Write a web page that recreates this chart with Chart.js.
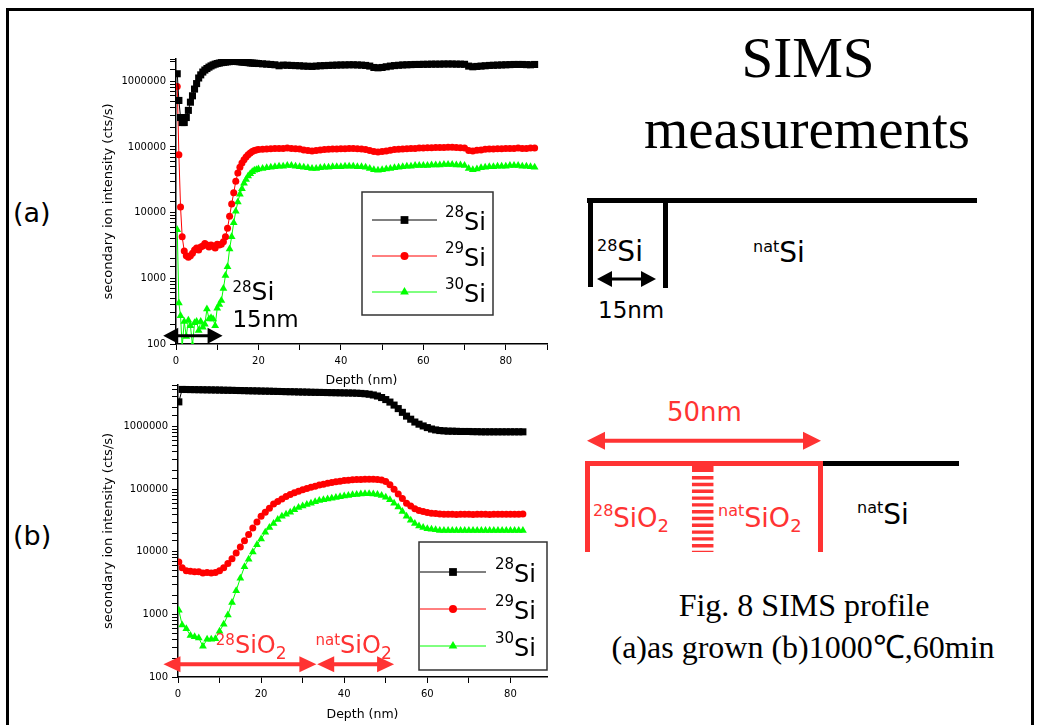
<!DOCTYPE html>
<html>
<head>
<meta charset="utf-8">
<script src="https://cdn.jsdelivr.net/npm/chart.js@4.4.0/dist/chart.umd.min.js"></script>
<style>
  body { margin: 0; background: #fff; }
  #page { position: relative; width: 1043px; height: 725px; overflow: hidden; background: #fff; }
  #deco { position: absolute; left: 0; top: 0; }
  #chartA { position: absolute; left: 90px; top: 49px; }
  #chartB { position: absolute; left: 90px; top: 375px; }
</style>
</head>
<body>
<div id="page">
  <svg id="deco" width="1043" height="725" xmlns="http://www.w3.org/2000/svg">
    <polyline points="7.5,740 7.5,9.5 1032.5,9.5 1032.5,740" fill="none" stroke="#000" stroke-width="3"/>

    <g font-family="DejaVu Sans" fill="#000">
      <text x="13" y="222" font-size="27">(a)</text>
      <text x="13" y="545" font-size="27">(b)</text>
    </g>

    <g font-family="Liberation Serif" font-size="57" text-anchor="middle" fill="#000">
      <text x="808" y="77">SIMS</text>
      <text x="807" y="148">measurements</text>
    </g>

    <!-- (a) as grown -->
    <rect x="587" y="198" width="390" height="5" fill="#000"/>
    <rect x="588" y="198" width="5" height="89" fill="#000"/>
    <rect x="663" y="198" width="5" height="90" fill="#000"/>
    <polygon id="arrDiagA" fill="#000"/>
    <g font-family="DejaVu Sans" fill="#000">
      <text x="597" y="261" font-size="28"><tspan font-size="16" dy="-10">28</tspan><tspan dy="10">Si</tspan></text>
      <text x="753" y="262" font-size="28"><tspan font-size="16" dy="-10">nat</tspan><tspan dy="10">Si</tspan></text>
      <text x="598" y="318" font-size="23">15nm</text>
    </g>

    <!-- (b) after anneal -->
    <text x="667" y="421" font-family="DejaVu Sans" font-size="26" fill="rgb(255,51,51)">50nm</text>
    <polygon id="arrDiagB" fill="rgb(255,51,51)"/>
    <rect x="587" y="461" width="236" height="5" fill="rgb(255,51,51)"/>
    <rect x="585" y="461" width="5" height="91" fill="rgb(255,51,51)"/>
    <rect x="818" y="461" width="5" height="91" fill="rgb(255,51,51)"/>
    <rect x="823" y="461" width="136" height="5" fill="#000"/>
    <rect x="692" y="464" width="21.5" height="8" fill="rgb(255,51,51)"/>
    <line x1="702.7" y1="476" x2="702.7" y2="552" stroke="rgb(255,51,51)" stroke-width="21.5" stroke-dasharray="3.4 3.4"/>
    <g font-family="DejaVu Sans" fill="rgb(255,51,51)">
      <text x="593" y="527" font-size="26"><tspan font-size="16" dy="-11">28</tspan><tspan dy="11">SiO</tspan><tspan font-size="18" dy="5">2</tspan></text>
      <text x="718" y="527" font-size="27"><tspan font-size="16" dy="-11">nat</tspan><tspan dy="11">SiO</tspan><tspan font-size="18" dy="5">2</tspan></text>
    </g>
    <text x="857" y="524" font-family="DejaVu Sans" font-size="28" fill="#000"><tspan font-size="16" dy="-11">nat</tspan><tspan dy="11">Si</tspan></text>

    <g font-family="Liberation Serif" font-size="32" text-anchor="middle" fill="#000">
      <text x="804" y="616">Fig. 8 SIMS profile</text>
      <text x="803" y="658">(a)as grown (b)1000℃,60min</text>
    </g>
  </svg>
  <canvas id="chartA" width="462" height="346"></canvas>
  <canvas id="chartB" width="462" height="350"></canvas>
</div>
<script>
// (a) as grown: depth (nm) and secondary ion intensity (cts/s)
const depthA = [0.3, 0.7, 1.1, 1.5, 2, 2.5, 3, 3.5, 4, 4.5, 5, 5.5, 6, 6.5, 7, 7.5, 8, 8.5, 9, 9.5,
  10, 10.5, 11, 11.5, 12, 12.5, 13, 13.5, 14, 14.5, 15, 15.5, 16, 16.5, 17, 17.5, 18, 18.5, 19, 19.5, 20,
  21, 22, 23, 24, 25, 26, 27, 28, 29, 30, 31, 32, 33, 34, 35, 36, 37, 38, 39, 40,
  41, 42, 43, 44, 45, 46, 47, 48, 49, 50, 51, 52, 53, 54, 55, 56, 57, 58, 59, 60,
  61, 62, 63, 64, 65, 66, 67, 68, 69, 70, 71, 72, 73, 74, 75, 76, 77, 78, 79, 80,
  81, 82, 83, 84, 85, 86, 87];
const si28A = [1.3e6, 5.1e5, 2.8e5, 2.35e5, 2.35e5, 2.8e5, 3.6e5, 4.8e5, 6.0e5, 7.6e5, 9.2e5, 1.12e6, 1.25e6, 1.38e6, 1.48e6, 1.56e6, 1.64e6, 1.71e6, 1.77e6, 1.82e6,
  1.86e6, 1.89e6, 1.92e6, 1.94e6, 1.96e6, 1.98e6, 1.99e6, 2.0e6, 2.0e6, 2.0e6, 1.99e6, 1.98e6, 1.96e6, 1.95e6, 1.93e6, 1.92e6, 1.9e6, 1.89e6, 1.88e6, 1.87e6, 1.86e6,
  1.84e6, 1.82e6, 1.8e6, 1.78e6, 1.72e6, 1.76e6, 1.75e6, 1.74e6, 1.73e6, 1.72e6,
  1.7e6, 1.69e6, 1.68e6, 1.7e6, 1.72e6, 1.73e6, 1.74e6, 1.75e6, 1.76e6, 1.77e6,
  1.77e6, 1.78e6, 1.78e6, 1.77e6, 1.76e6, 1.74e6, 1.7e6, 1.62e6, 1.6e6, 1.62e6,
  1.66e6, 1.7e6, 1.73e6, 1.75e6, 1.77e6, 1.78e6, 1.79e6, 1.8e6, 1.8e6, 1.81e6,
  1.81e6, 1.82e6, 1.82e6, 1.82e6, 1.83e6, 1.83e6, 1.83e6, 1.82e6, 1.82e6, 1.81e6,
  1.7e6, 1.66e6, 1.68e6, 1.7e6, 1.72e6, 1.74e6, 1.75e6, 1.76e6, 1.77e6, 1.78e6,
  1.79e6, 1.8e6, 1.8e6, 1.8e6, 1.79e6, 1.78e6, 1.8e6];
const si29A = [8.3e5, 7.6e4, 1.22e4, 4.3e3, 2.6e3, 2.2e3, 2.1e3, 2.2e3, 2.4e3, 2.7e3, 2.9e3, 2.7e3, 3.0e3, 3.1e3, 3.4e3, 3.2e3, 3.0e3, 3.2e3, 3.1e3, 2.9e3,
  3.3e3, 3.2e3, 3.3e3, 3.6e3, 4.3e3, 5.8e3, 8.8e3, 1.35e4, 2.0e4, 3.0e4, 4.0e4, 4.9e4, 5.7e4, 6.4e4, 7.0e4, 7.6e4, 8.1e4, 8.5e4, 8.8e4, 9.0e4, 9.1e4,
  9.2e4, 9.3e4, 9.4e4, 9.5e4, 9.5e4, 9.5e4, 9.6e4, 9.5e4, 9.4e4, 9.3e4,
  9.0e4, 8.8e4, 8.7e4, 8.8e4, 9.0e4, 9.1e4, 9.2e4, 9.3e4, 9.3e4, 9.4e4,
  9.4e4, 9.5e4, 9.5e4, 9.4e4, 9.3e4, 9.1e4, 8.8e4, 8.5e4, 8.4e4, 8.5e4,
  8.7e4, 8.9e4, 9.1e4, 9.2e4, 9.3e4, 9.4e4, 9.5e4, 9.5e4, 9.6e4, 9.6e4,
  9.7e4, 9.7e4, 9.8e4, 9.8e4, 9.8e4, 9.9e4, 9.9e4, 9.8e4, 9.7e4, 9.6e4,
  8.8e4, 8.7e4, 8.9e4, 9.0e4, 9.2e4, 9.3e4, 9.3e4, 9.4e4, 9.4e4, 9.5e4,
  9.5e4, 9.5e4, 9.6e4, 9.5e4, 9.5e4, 9.6e4, 9.6e4];
const si30A = [5.5e3, 4.2e2, 2.7e2, 90, 2.2e2, 1.3e2, 2.3e2, 1.9e2, 95, 2.1e2, 2.2e2, 1.6e2, 2.2e2, 1.8e2, 2.0e2, 3.4e2, 2.4e2, 2.5e2, 2.4e2, 1.9e2,
  3.5e2, 4.0e2, 4.6e2, 7.0e2, 1.1e3, 1.5e3, 2.8e3, 4.3e3, 7.0e3, 1.05e4, 1.45e4, 1.9e4, 2.3e4, 2.8e4, 3.2e4, 3.6e4, 3.9e4, 4.2e4, 4.4e4, 4.5e4, 4.6e4,
  4.7e4, 4.8e4, 4.9e4, 5.0e4, 5.1e4, 5.1e4, 5.2e4, 5.2e4, 5.1e4, 5.0e4,
  4.9e4, 4.8e4, 4.7e4, 4.7e4, 4.8e4, 4.9e4, 4.9e4, 5.0e4, 5.0e4, 5.0e4,
  5.1e4, 5.1e4, 5.1e4, 5.0e4, 5.0e4, 4.9e4, 4.7e4, 4.5e4, 4.4e4, 4.5e4,
  4.6e4, 4.7e4, 4.8e4, 4.9e4, 5.0e4, 5.1e4, 5.1e4, 5.2e4, 5.2e4, 5.2e4,
  5.2e4, 5.3e4, 5.3e4, 5.3e4, 5.4e4, 5.4e4, 5.4e4, 5.3e4, 5.3e4, 5.2e4,
  4.7e4, 4.5e4, 4.6e4, 4.8e4, 4.9e4, 5.0e4, 5.0e4, 5.1e4, 5.1e4, 5.1e4,
  5.2e4, 5.2e4, 5.2e4, 5.1e4, 5.1e4, 5.0e4, 4.9e4];

// (b) 1000 C, 60 min
const depthB = [0.2, 1, 2, 3, 4, 5, 6, 7, 8, 9, 10, 11, 12, 13, 14, 15, 16, 17, 18, 19, 20,
  21, 22, 23, 24, 25, 26, 27, 28, 29, 30, 31, 32, 33, 34, 35, 36, 37, 38, 39, 40,
  41, 42, 43, 44, 45, 46, 47, 48, 49, 50, 51, 52, 53, 54, 55, 56, 57, 58, 59, 60,
  61, 62, 63, 64, 65, 66, 67, 68, 69, 70, 71, 72, 73, 74, 75, 76, 77, 78, 79, 80,
  81, 82, 83];
const si28B = [2.5e6,
  3.95e6, 3.94e6, 3.93e6, 3.92e6, 3.91e6, 3.9e6, 3.89e6, 3.88e6, 3.87e6, 3.86e6,
  3.84e6, 3.83e6, 3.82e6, 3.8e6, 3.79e6, 3.78e6, 3.76e6, 3.75e6, 3.74e6, 3.72e6,
  3.71e6, 3.7e6, 3.68e6, 3.67e6, 3.66e6, 3.64e6, 3.63e6, 3.62e6, 3.6e6, 3.59e6,
  3.58e6, 3.56e6, 3.55e6, 3.54e6, 3.53e6, 3.52e6, 3.51e6, 3.5e6, 3.49e6, 3.48e6,
  3.47e6, 3.46e6, 3.44e6, 3.41e6, 3.37e6, 3.31e6, 3.22e6, 3.1e6, 2.93e6, 2.72e6,
  2.48e6, 2.22e6, 1.95e6, 1.7e6, 1.48e6, 1.32e6, 1.19e6, 1.1e6, 1.03e6, 9.7e5,
  9.2e5, 8.9e5, 8.7e5, 8.6e5, 8.5e5, 8.5e5, 8.45e5, 8.4e5, 8.4e5, 8.4e5,
  8.35e5, 8.35e5, 8.3e5, 8.3e5, 8.3e5, 8.3e5, 8.3e5, 8.3e5, 8.3e5, 8.3e5,
  8.3e5, 8.3e5, 8.3e5];
const si29B = [6.9e3,
  5.6e3, 5.0e3, 4.9e3, 4.8e3, 4.8e3, 4.6e3, 4.7e3, 4.6e3, 4.7e3, 5.0e3,
  5.6e3, 6.5e3, 7.8e3, 9.6e3, 1.2e4, 1.5e4, 1.9e4, 2.4e4, 3.0e4, 3.7e4,
  4.3e4, 5.0e4, 5.8e4, 6.4e4, 7.0e4, 7.7e4, 8.3e4, 8.8e4, 9.3e4, 9.8e4,
  1.03e5, 1.08e5, 1.12e5, 1.17e5, 1.21e5, 1.25e5, 1.29e5, 1.32e5, 1.35e5, 1.38e5,
  1.4e5, 1.42e5, 1.43e5, 1.44e5, 1.45e5, 1.45e5, 1.45e5, 1.44e5, 1.41e5, 1.33e5,
  1.18e5, 1.0e5, 8.4e4, 7.1e4, 6.0e4, 5.4e4, 4.9e4, 4.6e4, 4.4e4, 4.25e4,
  4.15e4, 4.1e4, 4.05e4, 4.0e4, 4.0e4, 4.0e4, 3.95e4, 4.0e4, 4.0e4, 4.0e4,
  3.95e4, 4.0e4, 4.0e4, 4.0e4, 3.95e4, 4.0e4, 4.0e4, 4.0e4, 4.0e4, 4.0e4,
  4.0e4, 4.0e4, 4.05e4];
const si30B = [1.17e3,
  6.8e2, 5.9e2, 4.6e2, 4.4e2, 4.2e2, 3.1e2, 4.0e2, 4.0e2, 4.1e2, 5.4e2,
  7.0e2, 9.8e2, 1.55e3, 2.4e3, 3.8e3, 5.8e3, 7.6e3, 1.0e4, 1.3e4, 1.6e4,
  2.05e4, 2.45e4, 2.85e4, 3.3e4, 3.7e4, 4.0e4, 4.3e4, 4.7e4, 5.1e4, 5.4e4,
  5.7e4, 6.0e4, 6.3e4, 6.6e4, 6.8e4, 7.0e4, 7.2e4, 7.4e4, 7.6e4, 7.8e4,
  8.0e4, 8.2e4, 8.3e4, 8.4e4, 8.5e4, 8.5e4, 8.4e4, 8.3e4, 8.0e4, 7.5e4,
  6.8e4, 6.0e4, 5.2e4, 4.4e4, 3.7e4, 3.2e4, 2.85e4, 2.6e4, 2.45e4, 2.35e4,
  2.3e4, 2.25e4, 2.2e4, 2.2e4, 2.2e4, 2.2e4, 2.2e4, 2.2e4, 2.2e4, 2.2e4,
  2.2e4, 2.2e4, 2.2e4, 2.2e4, 2.2e4, 2.2e4, 2.2e4, 2.2e4, 2.2e4, 2.2e4,
  2.2e4, 2.2e4, 2.2e4];

const isotopeLabels = ['28', '29', '30'];
const xTickStep = 10;
const xLabelStep = 20;

const NOTE_RED = 'rgb(255,51,51)';

Chart.defaults.font.family = '"DejaVu Sans", Verdana, sans-serif';
Chart.defaults.font.size = 10;
Chart.defaults.color = '#000';

function arrowPts(x1, x2, y, h, hh, sw) {
  const s = sw / 2;
  return [[x1, y], [x1 + h, y - hh], [x1 + h, y - s], [x2 - h, y - s], [x2 - h, y - hh],
    [x2, y], [x2 - h, y + hh], [x2 - h, y + s], [x1 + h, y + s], [x1 + h, y + hh]];
}

// arrows of the layer sketches on the right
document.getElementById('arrDiagA').setAttribute('points',
  arrowPts(597, 656, 279, 15, 8, 3).map((p) => p.join(',')).join(' '));
document.getElementById('arrDiagB').setAttribute('points',
  arrowPts(587, 821, 440.7, 18, 9, 4).map((p) => p.join(',')).join(' '));

function logLabel(v) {
  const e = Math.log10(v);
  return Math.abs(e - Math.round(e)) < 1e-6 ? String(Math.round(v)) : '';
}

function drawRich(ctx, x, y, parts) {
  ctx.textBaseline = 'alphabetic';
  ctx.textAlign = 'left';
  parts.forEach((p) => {
    ctx.font = p.size + 'px "DejaVu Sans"';
    ctx.fillText(p.t, x, y + (p.dy || 0));
    x += ctx.measureText(p.t).width;
  });
}

function drawMarker(ctx, style, x, y, r) {
  ctx.beginPath();
  if (style === 'rect') {
    const s = r * Math.SQRT1_2;
    ctx.rect(x - s, y - s, 2 * s, 2 * s);
  } else if (style === 'triangle') {
    ctx.moveTo(x, y - r);
    ctx.lineTo(x + r * 0.866, y + r * 0.5);
    ctx.lineTo(x - r * 0.866, y + r * 0.5);
    ctx.closePath();
  } else {
    ctx.arc(x, y, r, 0, Math.PI * 2);
  }
  ctx.fill();
}

const notesPlugin = {
  id: 'notes',
  afterDraw(chart, args, opts) {
    const ctx = chart.ctx;
    const xs = chart.scales.x;
    const ys = chart.scales.y;
    ctx.save();

    (opts.arrows || []).forEach((a) => {
      const pts = arrowPts(xs.getPixelForValue(a.from), xs.getPixelForValue(a.to),
        ys.getPixelForValue(a.at), a.head, a.half, a.shaft);
      ctx.fillStyle = a.color;
      ctx.beginPath();
      pts.forEach((p, i) => (i ? ctx.lineTo(p[0], p[1]) : ctx.moveTo(p[0], p[1])));
      ctx.closePath();
      ctx.fill();
    });

    (opts.texts || []).forEach((t) => {
      ctx.fillStyle = t.color;
      drawRich(ctx, xs.getPixelForValue(t.x), ys.getPixelForValue(t.y), t.parts);
    });

    const lg = opts.legend;
    if (lg) {
      ctx.fillStyle = '#fff';
      ctx.fillRect(lg.box[0], lg.box[1], lg.box[2] - lg.box[0], lg.box[3] - lg.box[1]);
      ctx.strokeStyle = '#333';
      ctx.lineWidth = 1.5;
      ctx.strokeRect(lg.box[0], lg.box[1], lg.box[2] - lg.box[0], lg.box[3] - lg.box[1]);
      chart.data.datasets.forEach((ds, i) => {
        const y = lg.rows[i];
        ctx.strokeStyle = ds.borderColor;
        ctx.lineWidth = 1;
        ctx.beginPath();
        ctx.moveTo(lg.line[0], y);
        ctx.lineTo(lg.line[1], y);
        ctx.stroke();
        ctx.fillStyle = ds.borderColor;
        drawMarker(ctx, ds.pointStyle, (lg.line[0] + lg.line[1]) / 2, y, ds.pointRadius + 0.5);
        ctx.fillStyle = '#000';
        drawRich(ctx, lg.textX, y + 10, [
          { t: isotopeLabels[i], size: 15, dy: -13 },
          { t: 'Si', size: 24 },
        ]);
      });
    }
    ctx.restore();
  },
};

function series(depth, values, color, style, radius) {
  return {
    data: depth.map((d, i) => ({ x: d, y: values[i] })),
    borderColor: color,
    backgroundColor: color,
    borderWidth: 1,
    pointStyle: style,
    pointRadius: radius,
    pointBorderWidth: 0,
    pointBackgroundColor: color,
    tension: 0,
  };
}

function makeOptions(cfg) {
  return {
    responsive: false,
    maintainAspectRatio: false,
    animation: false,
    layout: { padding: cfg.padding },
    plugins: {
      legend: { display: false },
      tooltip: { enabled: false },
      notes: cfg.notes,
    },
    scales: {
      x: {
        type: 'linear',
        min: 0,
        max: cfg.xMax,
        title: { display: true, text: 'Depth (nm)', font: { size: 12.5 }, color: '#000', padding: 3 },
        ticks: {
          stepSize: xTickStep,
          autoSkip: false,
          includeBounds: false,
          maxRotation: 0,
          padding: 5,
          color: '#000',
          callback: (v) => (v % xLabelStep === 0 ? String(v) : ''),
        },
        grid: { drawOnChartArea: false, tickLength: 6, color: '#000' },
        border: { color: '#000', width: 1.5 },
        afterFit: (s) => { s.height = cfg.xAxisHeight; },
      },
      y: {
        type: 'logarithmic',
        min: 100,
        max: cfg.yMax,
        title: { display: true, text: 'secondary ion intensity (cts/s)', font: { size: 13 }, color: '#000', padding: 3 },
        ticks: { autoSkip: false, includeBounds: false, padding: 4, color: '#000', callback: logLabel },
        grid: { drawOnChartArea: false, tickLength: 6, color: '#000' },
        border: { color: '#000', width: 1.5 },
        afterFit: (s) => { s.width = cfg.yAxisWidth; },
      },
    },
  };
}

new Chart(document.getElementById('chartA'), {
  type: 'line',
  data: {
    datasets: [
      series(depthA, si28A, '#000000', 'rect', 5),
      series(depthA, si29A, '#ff0000', 'circle', 3.5),
      series(depthA, si30A, '#00ff00', 'triangle', 4.5),
    ],
  },
  options: makeOptions({
    padding: { left: 8, top: 0, right: 0, bottom: 4 },
    xMax: 90,
    yMax: 2.18e6,
    xAxisHeight: 47,
    yAxisWidth: 78,
    notes: {
      arrows: [{ from: -3.1, to: 11.3, at: 134, head: 15, half: 8, shaft: 3, color: '#000' }],
      texts: [
        { x: 13.7, y: 468, color: '#000', parts: [{ t: '28', size: 15, dy: -8 }, { t: 'Si', size: 25 }] },
        { x: 13.7, y: 183, color: '#000', parts: [{ t: '15nm', size: 23 }] },
      ],
      legend: { box: [272, 143, 403, 266], rows: [171, 207, 243], line: [282, 347], textX: 355 },
    },
  }),
  plugins: [notesPlugin],
});

new Chart(document.getElementById('chartB'), {
  type: 'line',
  data: {
    datasets: [
      series(depthB, si28B, '#000000', 'rect', 5),
      series(depthB, si29B, '#ff0000', 'circle', 3.5),
      series(depthB, si30B, '#00ff00', 'triangle', 4.5),
    ],
  },
  options: makeOptions({
    padding: { left: 8, top: 0, right: 2, bottom: 0 },
    xMax: 88.8,
    yMax: 4.65e6,
    xAxisHeight: 48,
    yAxisWidth: 80,
    notes: {
      arrows: [
        { from: -3.5, to: 33.3, at: 160, head: 17, half: 8, shaft: 4, color: NOTE_RED },
        { from: 33.5, to: 52.0, at: 160, head: 17, half: 8, shaft: 4, color: NOTE_RED },
      ],
      texts: [
        { x: 9.1, y: 239, color: NOTE_RED, parts: [{ t: '28', size: 15, dy: -8 }, { t: 'SiO', size: 24 }, { t: '2', size: 17, dy: 6 }] },
        { x: 33.1, y: 239, color: NOTE_RED, parts: [{ t: 'nat', size: 15, dy: -8 }, { t: 'SiO', size: 24 }, { t: '2', size: 17, dy: 6 }] },
      ],
      legend: { box: [329, 167, 457, 295], rows: [197, 234, 271], line: [330, 396], textX: 405 },
    },
  }),
  plugins: [notesPlugin],
});
</script>
</body>
</html>
